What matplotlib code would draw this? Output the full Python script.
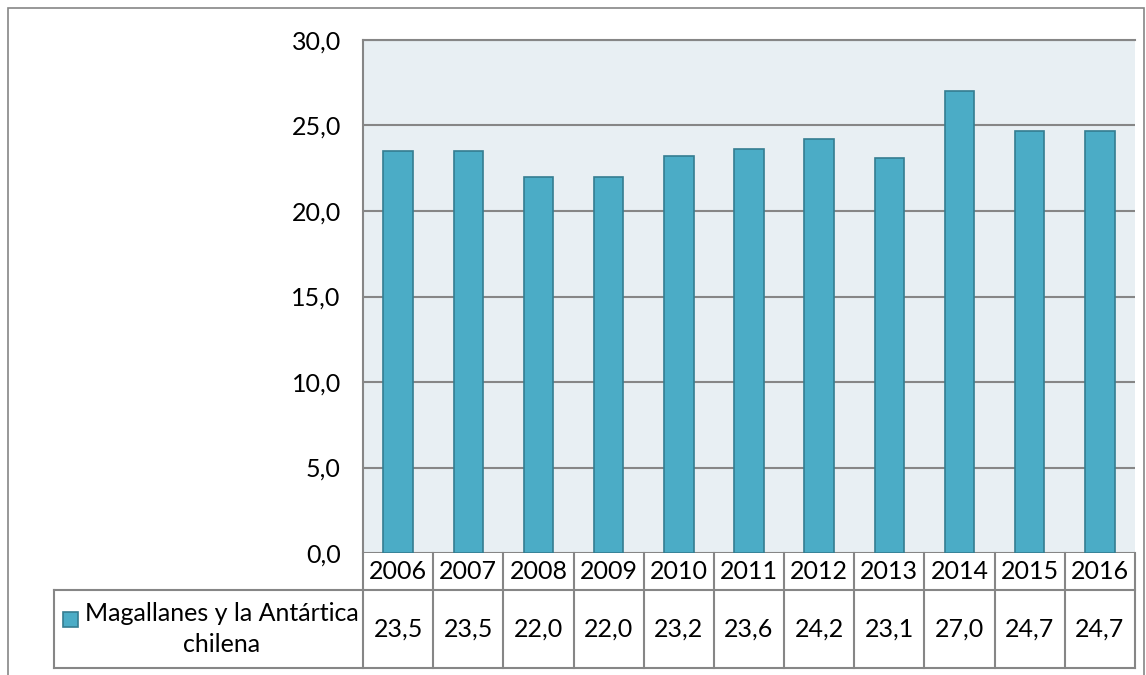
import numpy as np
import matplotlib.pyplot as plt
from matplotlib.patches import Rectangle
import matplotlib.transforms as mtransforms

plt.rcParams['font.family'] = ['Lato', 'DejaVu Sans']

years = ['2006', '2007', '2008', '2009', '2010', '2011', '2012', '2013', '2014', '2015', '2016']
values = [23.5, 23.5, 22.0, 22.0, 23.2, 23.6, 24.2, 23.1, 27.0, 24.7, 24.7]
serie = 'Magallanes y la Antártica\nchilena'
yticks = [0, 5, 10, 15, 20, 25, 30]

W, H = 1146, 675
fig = plt.figure(figsize=(W / 100, H / 100), dpi=100)
fs = 18

# borde exterior del gráfico
fig.patches.append(Rectangle((8 / W, -0.05), (1144 - 8) / W, 1.05 - 8 / H,
                             transform=fig.transFigure, fill=False,
                             edgecolor='#868686', linewidth=1.2))

ax = fig.add_axes([363 / W, 1 - 553 / H, (1135 - 363) / W, (553 - 40) / H])
ax.set_facecolor('#E8EFF3')
x = np.arange(len(years))
ax.bar(x, values, width=0.42, color='#4BACC6', edgecolor='#357D91', linewidth=1.2, zorder=3)
ax.set_xlim(-0.5, len(years) - 0.5)
ax.set_ylim(0, 30)
ax.set_yticks(yticks)
ax.set_yticklabels([f'{v:.1f}'.replace('.', ',') for v in yticks], fontsize=fs)
ax.tick_params(axis='y', length=0, pad=16)
ax.set_xticks([])
ax.grid(axis='y', color='#868686', linewidth=1.5, zorder=1)
for s in ['left', 'top']:
    ax.spines[s].set_color('#868686')
    ax.spines[s].set_linewidth(1.5)
for s in ['right', 'bottom']:
    ax.spines[s].set_visible(False)

# tabla de datos debajo del eje
tr = mtransforms.blended_transform_factory(ax.transData, ax.transAxes)
h1 = 37 / 513
h2 = 115 / 513
lc = '#868686'
legx = -0.5 - 309 / (772 / 11)
n = len(years)
kw = dict(transform=tr, color=lc, linewidth=1.5, clip_on=False)
ax.plot([-0.5, n - 0.5], [-h1, -h1], **kw)
ax.plot([legx, n - 0.5], [-h2, -h2], **kw)
ax.plot([legx, -0.5], [-h1, -h1], **kw)
ax.plot([legx, legx], [-h1, -h2], **kw)
for i in range(n + 1):
    ax.plot([i - 0.5, i - 0.5], [0, -h2], **kw)
for i, (yr, v) in enumerate(zip(years, values)):
    ax.text(i, -h1 / 2, yr, transform=tr, ha='center', va='center', fontsize=fs)
    ax.text(i, -(h1 + h2) / 2, f'{v:.1f}'.replace('.', ','), transform=tr,
            ha='center', va='center', fontsize=fs)

# leyenda dentro de la tabla
u = 772 / 11
ax.add_patch(Rectangle((legx + 9 / u, -h1 - 37 / 513), 15 / u, 15 / 513, transform=tr,
                       facecolor='#4BACC6', edgecolor='#357D91', linewidth=1.2, clip_on=False))
ax.text(legx + 168 / u, -(h1 + h2) / 2, serie, transform=tr, ha='center', va='center',
        fontsize=fs, linespacing=1.4)

fig.savefig('out.png', dpi=100)
